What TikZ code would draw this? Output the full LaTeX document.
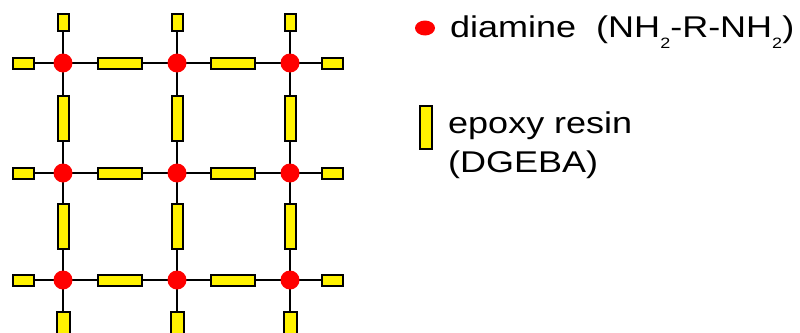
\documentclass[tikz,border=0pt]{standalone}
\usepackage{fontspec}
\setmainfont[FakeStretch=1.2]{Liberation Sans}
\usetikzlibrary{shapes.geometric,backgrounds}
\begin{document}
\begin{tikzpicture}[x=1pt,y=-1pt,
  amine/.style={circle,fill=red,inner sep=0pt,minimum size=19pt},
  resin/.style={rectangle,draw=black,fill=yellow,line width=2pt,inner sep=0pt},
  hres/.style={resin,minimum width=44pt,minimum height=11pt},
  vres/.style={resin,minimum width=11pt,minimum height=45pt},
  hstub/.style={resin,minimum width=21pt,minimum height=11pt},
  vstub/.style={resin,minimum width=11pt,minimum height=17pt},
  bstub/.style={resin,minimum width=13pt,minimum height=34pt},
  bond/.style={draw=black,line width=2pt},
  label/.style={anchor=base west,inner sep=0pt,font=\fontsize{30}{36}\selectfont}]
\useasboundingbox (0,0) rectangle (800,332);
\clip (0,0) rectangle (800,332);
% diamine nodes
\foreach \c/\x in {1/63,2/177,3/290}{
  \foreach \r/\y in {1/63,2/173,3/280}{
    \node[amine] (n\r\c) at (\x,\y) {};
  }
}
% horizontal resins
\foreach \r/\y in {1/63,2/173,3/280}{
  \node[hres] (h\r a) at (120,\y) {};
  \node[hres] (h\r b) at (233,\y) {};
  \node[hstub] (l\r) at (23,\y) {};
  \node[hstub] (rr\r) at (332,\y) {};
}
% vertical resins
\foreach \c/\x in {1/63,2/177,3/290}{
  \node[vres] (v\c a) at (\x,118) {};
  \node[vres] (v\c b) at (\x,226) {};
  \node[vstub] (t\c) at (\x,22) {};
  \node[bstub] (b\c) at (\x,329) {};
}
\begin{pgfonlayer}{background}
\foreach \r in {1,2,3}{
  \draw[bond] (l\r.center) -- (n\r1.center) -- (n\r2.center) -- (n\r3.center) -- (rr\r.center);
}
\foreach \c in {1,2,3}{
  \draw[bond] (t\c.center) -- (n1\c.center) -- (n2\c.center) -- (n3\c.center) -- (b\c.center);
}
\end{pgfonlayer}
% legend
\node[ellipse,fill=red,inner sep=0pt,minimum width=20pt,minimum height=15pt] (kdot) at (425,28) {};
\node[resin,minimum width=12pt,minimum height=43pt] (kres) at (425.5,127) {};
\node[label] (t1) at (450,37) {diamine\ \ (NH\raisebox{-11pt}{\fontsize{15}{15}\selectfont 2}-R-NH\raisebox{-11pt}{\fontsize{15}{15}\selectfont 2})};
\node[label] (t2) at (448,133) {epoxy resin};
\node[label] (t3) at (448,172) {(DGEBA)};
\end{tikzpicture}
\end{document}
